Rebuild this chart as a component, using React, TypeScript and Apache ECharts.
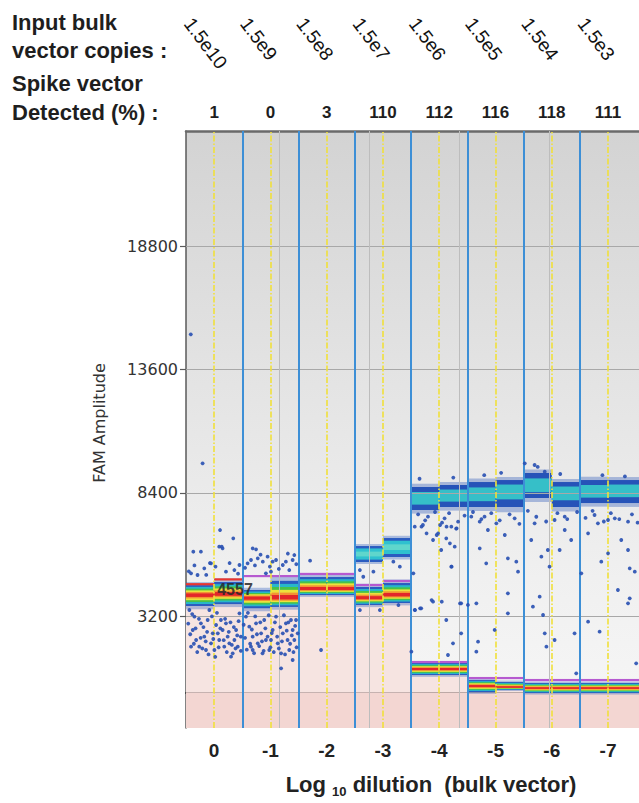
import React, { useEffect, useRef } from "react";
import * as echarts from "echarts";

// ---- data ----
const dilutions = ["0", "-1", "-2", "-3", "-4", "-5", "-6", "-7"];
const inputCopies = ["1.5e10", "1.5e9", "1.5e8", "1.5e7", "1.5e6", "1.5e5", "1.5e4", "1.5e3"];
const detectedPct = ["1", "0", "3", "110", "112", "116", "118", "111"];
const yTicks = [3200, 8400, 13600, 18800];
const eventGrid = [3.32, 6.52, 9.72, 12.92];

// 16 wells (two per dilution): lower (red-core) cluster
const lowLo = [3640, 3720, 3550, 3600, 4100, 4100, 3680, 3765, 731, 731, 15, 99, -27, -27, -27, -27];
const lowHi = [4520, 4650, 4310, 4700, 4860, 4860, 4439, 4607, 1237, 1237, 520, 436, 394, 394, 394, 394];
const lowCore = [4100, 4140, 3980, 3980, 4355, 4355, 3975, 4102, 984, 984, 267, 225, 183, 183, 183, 183];
// upper (cyan) cluster, null when absent
const upLo = [null, null, null, null, null, null, 5492, 5703, 7683, 7809, 7809, 7809, 8188, 7809, 7977, 7977];
const upHi = [null, null, null, null, null, null, 6166, 6503, 8652, 8736, 8862, 8946, 9242, 8862, 8946, 8946];
const upCore = [null, null, null, null, null, null, 5829, 6124, 8188, 8315, 8357, 8525, 8736, 8441, 8483, 8525];
// threshold lines per well
const thresholds = [4557, 4760, 4900, 4900, 4990, 4990, 4523, 4692, 1279, 1279, 604, 604, 520, 520, 520, 520];
const thresholdLabel = "4557";

// scattered droplets: [well position, amplitude]
const dropX = [
  0.17, 0.59, 1.21, 1.68, 0.26, 1.27, 0.85,
  0.53, 1.18, 1.3, 0.89, 0.18, 0.41, 0.65, 1.42, 1.72, 1.9, 2.37, 2.49, 2.19, 2.31, 2.55, 2.73, 2.9, 3.08, 3.2, 3.44, 3.55, 3.79, 3.85, 3.67, 3.02, 2.84, 4.41,
  0.24, 0.36, 0.18, 0.47, 0.65, 0.77, 0.83, 0.89, 0.71, 1.07, 1.13, 1.18, 1.3, 1.36, 1.48, 1.54, 1.66, 1.72, 1.78, 1.84, 1.6, 1.01, 1.24, 1.9,
  2.13, 2.25, 2.37, 2.49, 2.55, 2.67, 2.78, 2.84, 2.96, 3.08, 3.2, 3.26, 3.38, 3.44, 3.55, 3.61, 3.67, 3.79, 3.85, 3.91, 3.38, 2.37, 2.72, 3.79,
  0.3, 0.53, 0.95, 1.42, 1.95, 2.31, 3.02, 3.73, 3.97, 0.12, 4.8,
  0.08, 0.15, 0.22, 0.28, 0.34, 0.4, 0.46, 0.52, 0.58, 0.62, 0.7, 0.75, 0.8, 0.92, 0.97, 1.04, 1.1, 1.16, 1.22, 1.34, 1.39, 1.45, 1.52, 1.58, 1.63, 1.7, 1.76, 1.82, 1.87, 1.95,
  2.05, 2.1, 2.16, 2.2, 2.28, 2.34, 2.42, 2.46, 2.52, 2.6, 2.64, 2.7, 2.76, 2.82, 2.9, 2.94, 3.0, 3.05, 3.12, 3.16, 3.24, 3.3, 3.35, 3.41, 3.48, 3.52, 3.58, 3.64, 3.7, 3.76, 3.82, 3.88, 3.93,
  0.1, 0.3, 0.72, 1.05, 1.55, 1.85, 2.1, 2.45, 2.65, 2.98, 3.3, 3.62, 3.92,
  6.18, 6.66, 7.37, 7.6, 6.3, 6.89, 7.55, 6.18,
  8.08, 8.37, 8.55, 8.91, 9.03, 9.26, 9.38, 9.62, 9.44, 8.73, 9.09, 8.32, 8.14, 9.74,
  8.13, 8.42, 8.78, 8.96, 9.43, 9.55, 9.25, 9.07, 9.43, 8.78, 8.36, 8.13, 9.25, 9.78, 9.78, 9.49, 9.31, 8.01,
  10.14, 10.44, 10.73, 11.03, 11.33, 10.44, 10.67, 11.44, 11.74, 11.8, 10.32, 10.02, 11.44, 11.44, 10.97, 10.38, 10.32,
  12.04, 12.39, 12.75, 12.27, 12.63, 12.86, 12.39, 13.28, 13.46, 13.69, 12.57, 12.33, 12.69, 12.75, 12.81, 13.1, 13.81, 12.92,
  14.05, 14.29, 14.64, 15.0, 15.47, 15.71, 15.0, 14.76, 15.77, 15.95, 14.29, 14.7, 15.35, 15.77, 15.71, 13.87, 16.0,
  8.6, 9.19, 9.67, 10.61, 11.68, 13.1, 13.46, 14.52, 15.24, 15.71,
  8.25, 8.5, 8.85, 9.1, 9.35, 9.6, 9.9, 10.2, 10.5, 10.85, 11.15, 11.5, 11.85, 12.15, 12.45, 12.8, 13.2, 13.55, 13.9, 14.2, 14.45, 14.85, 15.1, 15.4, 15.85, 16.05,
  8.3, 9.5, 10.6, 11.2, 12.5, 13.3, 14.8, 15.6,
];
const dropY = [
  15085, 9650, 6840, 6490, 5926, 6137, 5450,
  5928, 6138, 6068, 5436, 5015, 4945, 5226, 5085, 5155, 5366, 6068, 6026, 5436, 5577, 5647, 5506, 5717, 5506, 5577, 5366, 5506, 5577, 5787, 5155, 5085, 5015, 5549,
  2628, 2207, 1926, 1926, 2347, 3049, 3471, 2067, 1786, 2839, 2488, 2207, 2628, 1926, 2347, 2067, 1645, 2207, 2628, 1926, 1505, 1786, 3049, 3330,
  3190, 2769, 2347, 2909, 2067, 2488, 3049, 2207, 1786, 2628, 3190, 2067, 1645, 2488, 2909, 2207, 1786, 2628, 2207, 3049, 1014, 1786, 1645, 1364,
  3190, 2909, 2488, 2909, 2347, 1926, 2207, 3049, 2488, 3471, 1786,
  2900, 2450, 3300, 2050, 2700, 1700, 3100, 2300, 1850, 2750, 2150, 2550, 1600, 3200, 2250, 1500, 3350, 1900, 2700, 2200, 3100, 1700, 2550, 2950, 2000, 2750, 1850, 2400, 3000, 1750,
  2850, 2300, 1800, 3350, 2050, 2650, 1650, 3200, 2450, 1950, 2950, 2150, 1750, 2700, 2350, 3250, 1900, 2500, 1700, 2950, 2350, 1850, 2750, 2150, 3250, 1600, 2600, 2950, 2050, 2400, 1700, 2800, 1900,
  5100, 5350, 4950, 5300, 5450, 5000, 5250, 5350, 5800, 5300, 5200, 5850, 5400,
  5155, 5085, 5506, 5295, 4872, 3470, 3680, 3470,
  5016, 6980, 6700, 6630, 7050, 6980, 6280, 6910, 5295, 3890, 3820, 3540, 3470, 3750,
  6982, 7052, 6420, 6701, 6982, 6139, 6490, 5999, 5297, 3823, 3542, 3472, 3050, 3752, 2489, 2068, 1576, 1717,
  7403, 7192, 6841, 7122, 6631, 6069, 5437, 5648, 5508, 5086, 3752, 3683, 4174, 3332, 2630, 2138, 1717,
  9649, 9579, 9298, 6420, 5718, 5999, 7122, 5999, 6841, 6420, 4033, 3612, 3261, 2489, 1927, 2208, 2489, 5297,
  5016, 6701, 7122, 7262, 6420, 5999, 5859, 5508, 5227, 5086, 2980, 2559, 4314, 3963, 3752, 804, 1225,
  7403, 7333, 7192, 7403, 7333, 7262, 7403, 7473, 7333, 7192,
  7500, 7250, 7600, 7150, 7550, 6900, 7450, 7600, 7300, 7550, 7250, 7500, 7100, 7650, 7400, 7200, 7550, 7300, 7600, 7350, 7650, 7200, 7550, 7300, 7500, 7150,
  9000, 9050, 9150, 9250, 9500, 9200, 9150, 9100,
];

const Y_MIN = -1500;
const Y_MAX = 23650;
const X_MAX = 16.1;

const GRID_LEFT = 186;
const GRID_TOP = 131;
const GRID_RIGHT = 0;
const GRID_BOTTOM = 75;
const PLOT_W = 639 - GRID_LEFT - GRID_RIGHT;

const SANS = '"Liberation Sans", Arial, sans-serif';

const hotLayers = [
  { f: 1.3, c: "rgba(43,92,192,0.35)" },
  { f: 1.0, c: "#2b5cc0" },
  { f: 0.82, c: "#27b7c9" },
  { f: 0.64, c: "#46c24a" },
  { f: 0.47, c: "#ebe23c" },
  { f: 0.31, c: "#f39233" },
  { f: 0.17, c: "#e3262a" },
];
const coolLayers3 = [
  { f: 1.25, c: "rgba(43,92,192,0.35)" },
  { f: 1.0, c: "#2b5cc0" },
  { f: 0.7, c: "#2fc1cf" },
  { f: 0.3, c: "#5fd6cc" },
];
const coolLayers = [
  { f: 1.3, c: "rgba(38,83,184,0.35)" },
  { f: 1.0, c: "#2653b8" },
  { f: 0.55, c: "#36bfc8" },
];

export default function App() {
  const ref = useRef<HTMLDivElement>(null);

  useEffect(() => {
    if (!ref.current) return;
    const chart = echarts.init(ref.current, undefined, { renderer: "svg" });
    const wells = lowLo.map((_, j) => [j]);
    const wellEnd = (j: number) => (j === wells.length - 1 ? X_MAX : j + 1);
    const center = (i: number) => GRID_LEFT + ((2 * i + 1) * PLOT_W) / X_MAX;

    const pinkRender = (params: any, api: any) => {
      const j = api.value(0);
      const x0 = j;
      const x1 = wellEnd(j);
      const children: any[] = [];
      const lo = lowLo[j];
      if (lo > 0) {
        const a = api.coord([x0, lo]);
        const b = api.coord([x1, 0]);
        children.push({
          type: "rect",
          shape: { x: a[0], y: a[1], width: b[0] - a[0], height: b[1] - a[1] },
          style: { fill: "#f6e4e1" },
        });
      }
      const c = api.coord([x0, 0]);
      const d = api.coord([x1, Y_MIN]);
      children.push({
        type: "rect",
        shape: { x: c[0], y: c[1], width: d[0] - c[0], height: d[1] - c[1] },
        style: { fill: "#f3d6d2" },
      });
      return { type: "group", children };
    };

    const bandRender = (params: any, api: any) => {
      const j = api.value(0);
      const x0 = j;
      const x1 = wellEnd(j);
      const children: any[] = [];
      const band = (lo: number, hi: number, core: number, layers: any[]) => {
        layers.forEach((l) => {
          const top = core + l.f * (hi - core);
          const bot = core - l.f * (core - lo);
          const a = api.coord([x0, top]);
          const b = api.coord([x1, bot]);
          children.push({
            type: "rect",
            shape: { x: a[0], y: a[1], width: b[0] - a[0], height: Math.max(b[1] - a[1], 1.6) },
            style: { fill: l.c },
          });
        });
      };
      band(lowLo[j], lowHi[j], lowCore[j], hotLayers);
      if (upLo[j] != null) {
        band(upLo[j] as number, upHi[j] as number, upCore[j] as number, j < 8 ? coolLayers3 : coolLayers);
      }
      const t0 = api.coord([x0, thresholds[j]]);
      const t1 = api.coord([x1, thresholds[j]]);
      children.push({
        type: "line",
        shape: { x1: t0[0], y1: t0[1], x2: t1[0], y2: t1[1] },
        style: { stroke: j < 2 ? "#e8352f" : "#b65ad0", lineWidth: 2.2 },
      });
      return { type: "group", children };
    };

    const yellowLines = dilutions.map((_, i) => ({
      xAxis: 2 * i + 1,
      lineStyle: { color: "#f0e03a", width: 1.6, type: [6, 2, 1.5, 2] },
    }));
    const blueLines = dilutions.slice(1).map((_, i) => ({
      xAxis: 2 * (i + 1),
      lineStyle: { color: "#3d8fd6", width: 2, type: "solid" },
    }));
    const hLines = yTicks.map((v) => ({
      yAxis: v,
      lineStyle: { color: "#a8a8a8", width: 1, type: "solid" },
    }));
    const vGrid = eventGrid.map((v) => ({
      xAxis: v,
      lineStyle: { color: "#bdbdbd", width: 1, type: "solid" },
    }));

    const headerText = (text: string, y: number) => ({
      type: "text",
      x: 12,
      y,
      z: 100,
      style: {
        text,
        fill: "#1e1e1e",
        fontSize: 22,
        fontWeight: "bold",
        fontFamily: SANS,
        textAlign: "left",
        textVerticalAlign: "middle",
      },
    });

    const option: any = {
      animation: false,
      grid: {
        left: GRID_LEFT,
        top: GRID_TOP,
        right: GRID_RIGHT,
        bottom: GRID_BOTTOM,
        show: true,
        borderWidth: 0,
        backgroundColor: new echarts.graphic.LinearGradient(0, 0, 0, 1, [
          { offset: 0, color: "#d3d3d3" },
          { offset: 0.4, color: "#e3e3e3" },
          { offset: 0.75, color: "#f0f0f0" },
          { offset: 1, color: "#f7f7f7" },
        ]),
      },
      xAxis: [
        {
          type: "value",
          min: 0,
          max: X_MAX,
          position: "bottom",
          axisLine: { show: true, lineStyle: { color: "#3a3a3a", width: 2 } },
          axisTick: {
            show: true,
            customValues: blueLines.map((b) => b.xAxis),
            length: 23,
            lineStyle: { color: "#3d8fd6", width: 2 },
          },
          axisLabel: {
            customValues: yellowLines.map((y) => y.xAxis),
            formatter: (v: number) => dilutions[Math.round((v - 1) / 2)] ?? "",
            fontSize: 19,
            fontWeight: "bold",
            fontFamily: SANS,
            color: "#222",
            margin: 13,
          },
          splitLine: { show: false },
        },
        {
          type: "value",
          min: 0,
          max: X_MAX,
          position: "top",
          axisLine: { show: true, lineStyle: { color: "#6a6a6a", width: 2.5 } },
          axisTick: { show: false },
          axisLabel: { show: false },
          splitLine: { show: false },
        },
      ],
      yAxis: {
        type: "value",
        min: Y_MIN,
        max: Y_MAX,
        axisLine: { show: true, lineStyle: { color: "#5a5a5a", width: 1.5 } },
        axisTick: {
          show: true,
          customValues: yTicks,
          length: 6,
          lineStyle: { color: "#5a5a5a", width: 1.2 },
        },
        axisLabel: {
          customValues: yTicks,
          formatter: (v: number) => String(v),
          fontSize: 16,
          fontFamily: '"DejaVu Sans", sans-serif',
          color: "#333",
          margin: 8,
        },
        splitLine: { show: false },
      },
      series: [
        {
          name: "negative region",
          type: "custom",
          z: 1,
          silent: true,
          data: wells,
          renderItem: pinkRender,
        },
        {
          name: "grid",
          type: "scatter",
          z: 2,
          silent: true,
          data: [],
          markLine: {
            silent: true,
            symbol: ["none", "none"],
            label: { show: false },
            data: [...hLines, ...vGrid],
          },
        },
        {
          name: "clusters",
          type: "custom",
          z: 3,
          silent: true,
          data: wells,
          renderItem: bandRender,
        },
        {
          name: "well dividers",
          type: "scatter",
          z: 4,
          silent: true,
          data: [],
          markLine: {
            silent: true,
            symbol: ["none", "none"],
            label: { show: false },
            data: [...yellowLines, ...blueLines],
          },
        },
        {
          name: "droplets",
          type: "scatter",
          z: 5,
          silent: true,
          symbol: "circle",
          symbolSize: 3.8,
          itemStyle: { color: "#2b53b3", opacity: 0.92 },
          data: dropX.map((x, i) => [x, dropY[i]]),
        },
      ],
      graphic: [
        headerText("Input bulk", 22),
        headerText("vector copies :", 50),
        headerText("Spike vector", 83),
        headerText("Detected (%) :", 112),
        ...inputCopies.map((t, i) => ({
          type: "text",
          x: center(i) - 26,
          y: 20,
          z: 100,
          rotation: (-53 * Math.PI) / 180,
          style: {
            text: t,
            fill: "#111",
            fontSize: 19,
            fontFamily: SANS,
            textAlign: "left",
            textVerticalAlign: "middle",
          },
        })),
        ...detectedPct.map((t, i) => ({
          type: "text",
          x: center(i),
          y: 112,
          z: 100,
          style: {
            text: t,
            fill: "#1e1e1e",
            fontSize: 17,
            fontWeight: "bold",
            fontFamily: SANS,
            textAlign: "center",
            textVerticalAlign: "middle",
          },
        })),
        {
          type: "text",
          x: 99,
          y: 423,
          z: 100,
          rotation: Math.PI / 2,
          style: {
            text: "FAM Amplitude",
            fill: "#333",
            fontSize: 16,
            fontFamily: '"DejaVu Sans", sans-serif',
            textAlign: "center",
            textVerticalAlign: "middle",
          },
        },
        {
          type: "text",
          x: 235,
          y: 589,
          z: 100,
          style: {
            text: thresholdLabel,
            fill: "rgba(40,40,40,0.85)",
            fontSize: 16,
            fontWeight: "bold",
            fontFamily: SANS,
            textAlign: "center",
            textVerticalAlign: "middle",
          },
        },
        {
          type: "text",
          x: 431,
          y: 784,
          z: 100,
          style: {
            text: "{a|Log }{s|10}{a| dilution  (bulk vector)}",
            fill: "#222",
            textAlign: "center",
            textVerticalAlign: "middle",
            rich: {
              a: { fontSize: 22, fontWeight: "bold", fontFamily: SANS, fill: "#222", lineHeight: 28, verticalAlign: "middle" },
              s: { fontSize: 13, fontWeight: "bold", fontFamily: SANS, fill: "#222", lineHeight: 28, verticalAlign: "bottom" },
            },
          },
        },
      ],
    };

    chart.setOption(option);
    return () => chart.dispose();
  }, []);

  return (
    <div
      ref={ref}
      style={{ position: "absolute", left: 0, top: 0, width: 639, height: 803, background: "#fff" }}
    />
  );
}
